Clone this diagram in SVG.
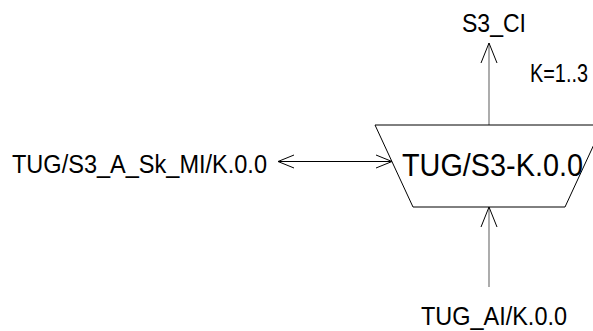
<svg xmlns="http://www.w3.org/2000/svg" width="593" height="331" viewBox="0 0 593 331">
<style>
text{font-family:"Liberation Sans",Arial,sans-serif;fill:#000}
.lbl{font-size:26px}
.v{stroke:#808080;stroke-width:1.3;fill:none}
.h{stroke:#000;stroke-width:1;fill:none}
.ah{stroke:#000;stroke-width:1;fill:none}
</style>
<rect width="593" height="331" fill="#fff"/>
<g id="connectors">
<line class="v" x1="489" y1="125" x2="489" y2="43"/>
<polyline class="ah" points="481,63 489,43 497,63"/>
<line class="v" x1="489" y1="287" x2="489" y2="207"/>
<polyline class="ah" points="481,227 489,207 497,227"/>
<line class="h" x1="278" y1="161.5" x2="392" y2="161.5"/>
<polyline class="ah" points="294,155 278,161.5 294,168"/>
<polyline class="ah" points="376,155 392,161.5 376,168"/>
</g>
<g id="block">
<polygon points="375,125 603,125 565,207 413,207" fill="#fff" stroke="#000" stroke-width="1"/>
<text x="402" y="176" font-size="32" textLength="181" lengthAdjust="spacingAndGlyphs">TUG/S3-K.0.0</text>
</g>
<g id="out">
<text class="lbl" x="462" y="32" textLength="64" lengthAdjust="spacingAndGlyphs">S3_CI</text>
<text class="lbl" x="530" y="82" textLength="58" lengthAdjust="spacingAndGlyphs">K=1..3</text>
</g>
<g id="left">
<text class="lbl" x="12" y="173" textLength="255" lengthAdjust="spacingAndGlyphs">TUG/S3_A_Sk_MI/K.0.0</text>
</g>
<g id="bottom">
<text class="lbl" x="421" y="325" textLength="146" lengthAdjust="spacingAndGlyphs">TUG_AI/K.0.0</text>
</g>
</svg>
